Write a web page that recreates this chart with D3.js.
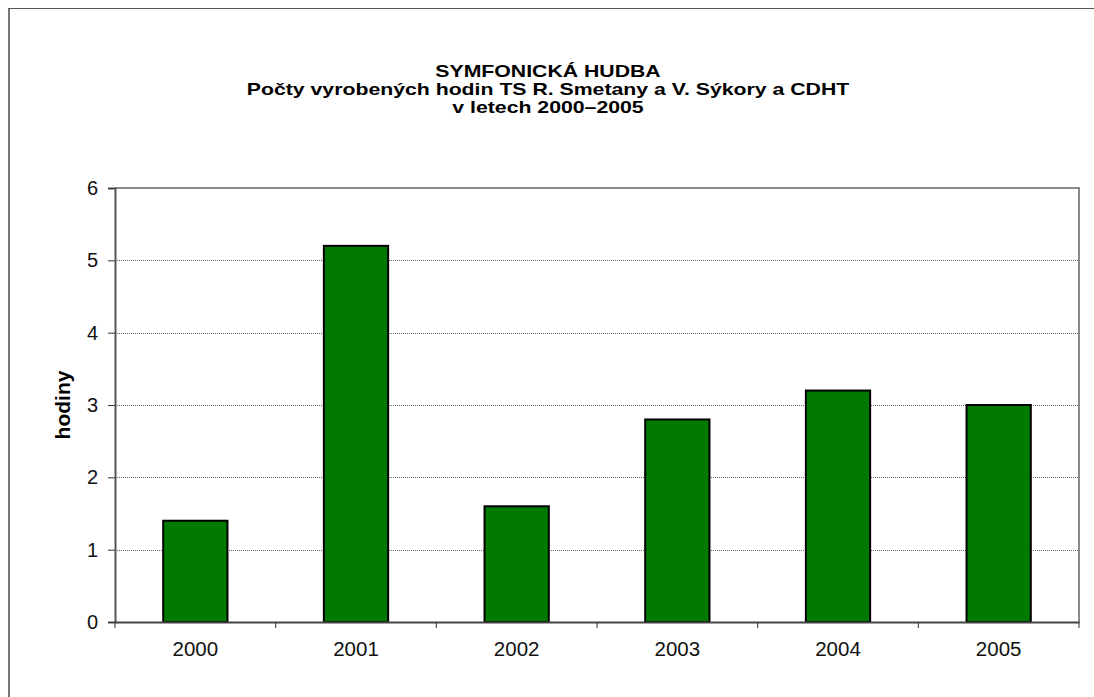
<!DOCTYPE html>
<html><head><meta charset="utf-8">
<script src="https://cdn.jsdelivr.net/npm/d3@7/dist/d3.min.js"></script>
<style>body{margin:0;background:#fff}svg{display:block}</style>
</head><body>
<svg id="c" width="1094" height="697"></svg>
<script>
const years = ["2000","2001","2002","2003","2004","2005"];
const hours = [1.4, 5.2, 1.6, 2.8, 3.2, 3.0];
const yTicks = [0,1,2,3,4,5,6];
const titleLines = ["SYMFONICKÁ HUDBA","Počty vyrobených hodin TS R. Smetany a V. Sýkory a CDHT","v letech 2000–2005"];
const yLabel = "hodiny";

const svg = d3.select("#c");
const font = "'Liberation Sans', Arial, sans-serif";
// outer chart border (extends beyond the picture)
svg.append("line").attr("x1",9).attr("x2",9).attr("y1",8).attr("y2",697).attr("stroke","#777").attr("stroke-width",2);
svg.append("line").attr("x1",8).attr("x2",1094).attr("y1",8.5).attr("y2",8.5).attr("stroke","#555").attr("stroke-width",1);

const L=115, R=1079, T=188, B=622;
const x = d3.scaleBand().domain(years).range([L,R]).paddingInner(0.6).paddingOuter(0.3);
const xb = d3.scaleBand().domain(years).range([L,R]);
const y = d3.scaleLinear().domain([0,6]).range([B,T]);

// gridlines
svg.append("g").selectAll("line").data(yTicks.filter(d=>d>0&&d<6)).join("line")
  .attr("x1",L).attr("x2",R).attr("y1",d=>Math.round(y(d))+0.5).attr("y2",d=>Math.round(y(d))+0.5)
  .attr("stroke","#666").attr("stroke-dasharray","1,1").attr("stroke-width",1);
// top and right border
svg.append("path").attr("d",`M${L},${y(6)}H${R}V${B}`).attr("fill","none").attr("stroke","#8a8a8a").attr("stroke-width",2);

// bars
svg.append("g").selectAll("rect").data(hours).join("rect")
  .attr("x",(d,i)=>x(years[i])).attr("width",x.bandwidth())
  .attr("y",d=>y(d)).attr("height",d=>B-y(d))
  .attr("fill","#007a00").attr("stroke","#000").attr("stroke-width",2);

// y axis
const ya = svg.append("g").attr("transform",`translate(${L},0)`)
  .call(d3.axisLeft(y).tickValues(yTicks).tickSize(7).tickPadding(10).tickFormat(d3.format("d")));
ya.select(".domain").attr("stroke","#555").attr("stroke-width",2);
ya.selectAll(".tick line").attr("stroke","#333");
ya.selectAll("text").attr("font-family",font).attr("font-size",20).attr("fill","#111");

// x axis
const xa = svg.append("g").attr("transform",`translate(0,${B})`)
  .call(d3.axisBottom(xb).tickSize(0).tickPadding(19));
xa.select(".domain").attr("stroke","#444").attr("stroke-width",2);
xa.selectAll("text").attr("font-family",font).attr("font-size",20.5).attr("fill","#111");
// category separators ticks
svg.append("g").selectAll("line").data(d3.range(years.length+1)).join("line")
  .attr("x1",i=>i<years.length?xb(years[i]):R).attr("x2",i=>i<years.length?xb(years[i]):R)
  .attr("y1",B).attr("y2",B+6).attr("stroke","#333").attr("stroke-width",1);

// title
svg.append("g").attr("transform","translate(548,0) scale(1.25,1)")
  .selectAll("text").data(titleLines).join("text")
  .attr("x",0).attr("y",(d,i)=>77+i*18).attr("text-anchor","middle")
  .attr("font-family",font).attr("font-weight","bold").attr("font-size",17).attr("fill","#000")
  .text(d=>d);

// y label
svg.append("text").attr("transform",`translate(70,${(T+B)/2}) rotate(-90)`)
  .attr("text-anchor","middle").attr("font-family",font).attr("font-weight","bold").attr("font-size",21)
  .text(yLabel);
</script>
</body></html>
